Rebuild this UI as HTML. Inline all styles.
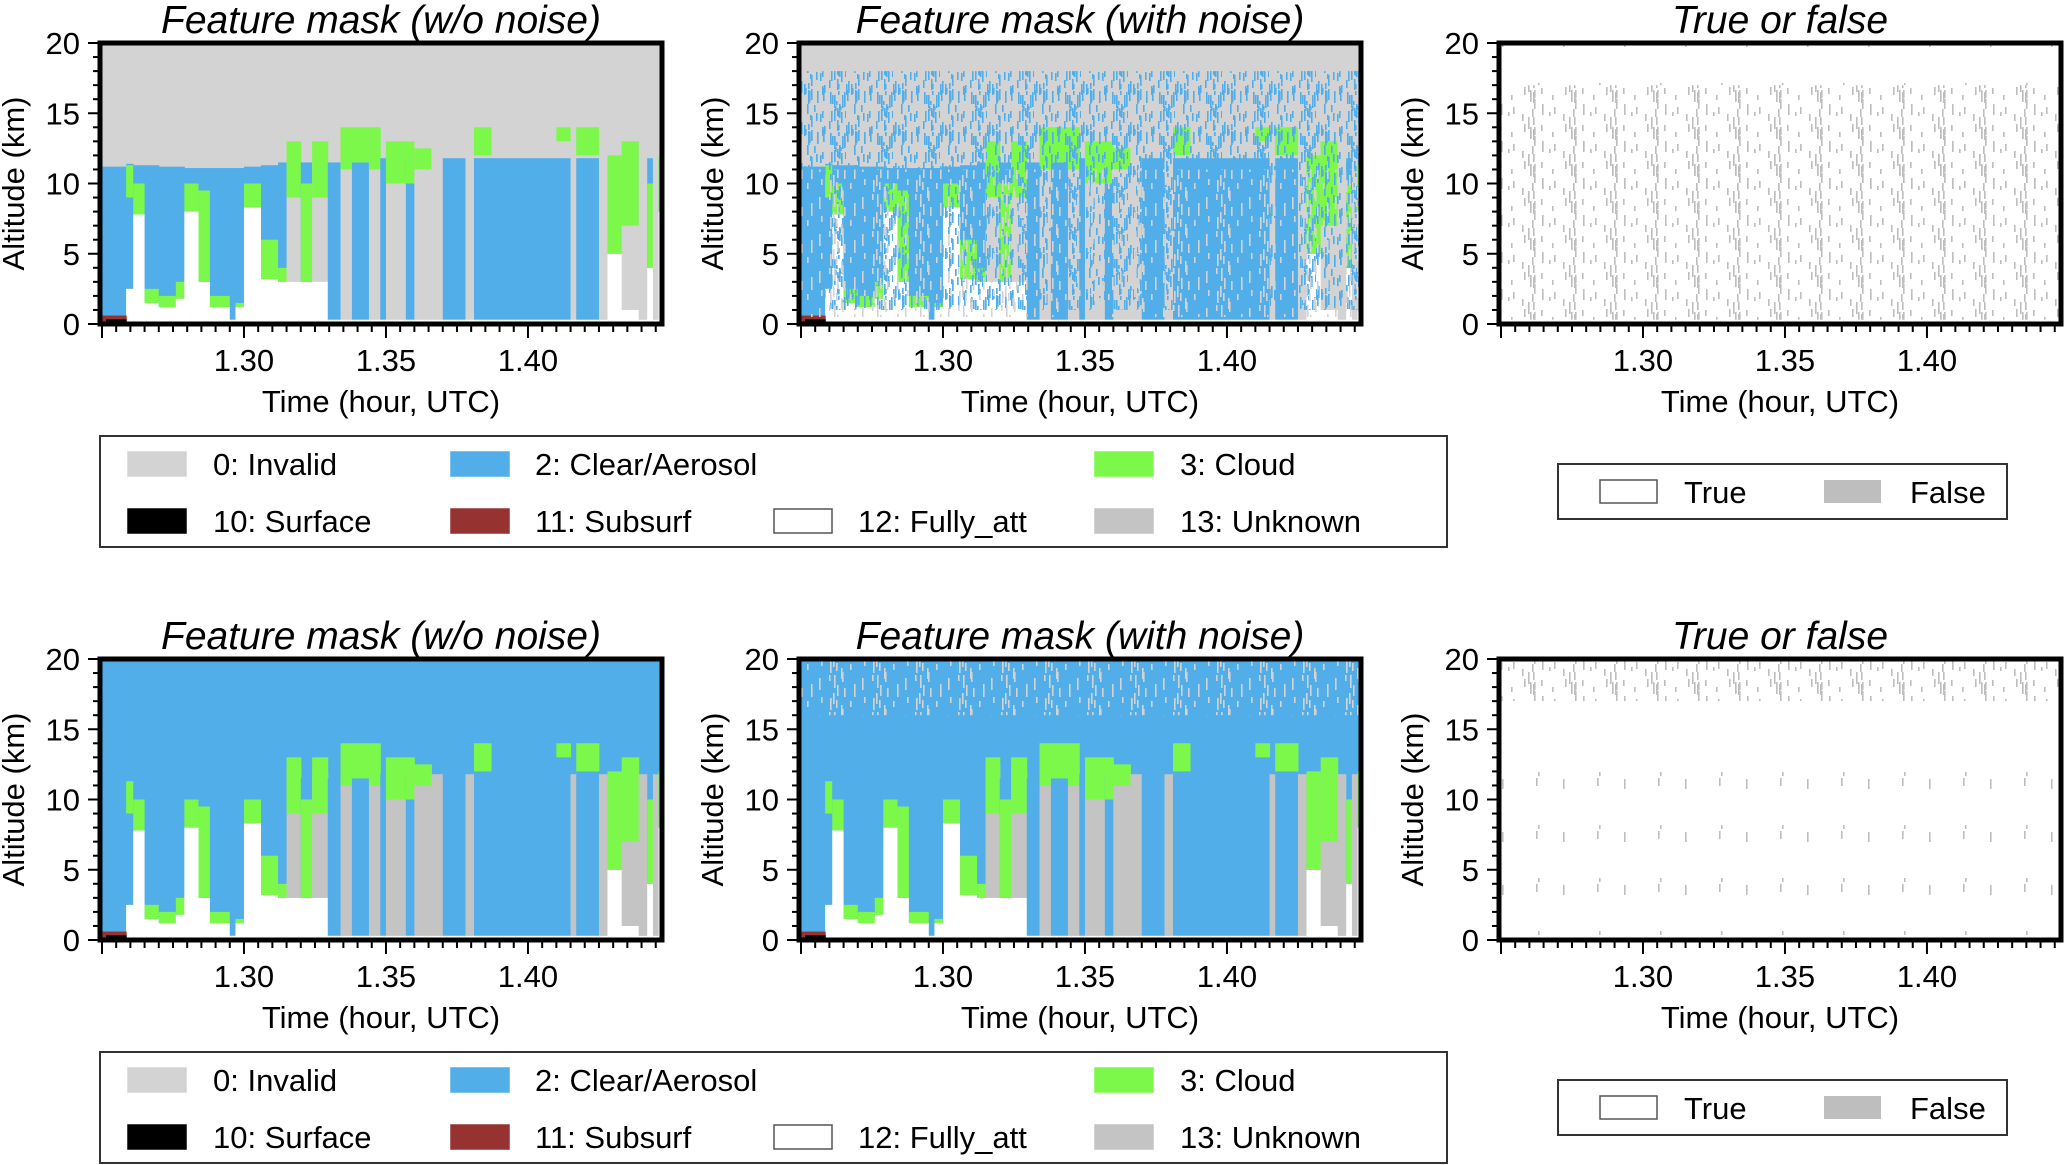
<!DOCTYPE html>
<html><head><meta charset="utf-8">
<style>
html,body{margin:0;padding:0;background:#fff;}
svg{display:block;font-family:"Liberation Sans",sans-serif;}
</style></head>
<body>
<svg id="fig" width="2067" height="1165" viewBox="0 0 2067 1165" xmlns="http://www.w3.org/2000/svg">
<defs id="defs"></defs>
</svg>
<script>
// ---- data: column segments (time start, hours UTC) ----
const segStart = [1.2493,1.2585,1.2610,1.2650,1.2700,1.2760,1.2790,1.2840,1.2880,1.2950,1.2970,1.3000,1.3060,1.3120,1.3150,1.3200,1.3240,1.3295,1.3340,1.3380,1.3440,1.3480,1.3500,1.3570,1.3600,1.3660,1.3700,1.3780,1.3810,1.3870,1.4100,1.4150,1.4170,1.4250,1.4280,1.4330,1.4390,1.4420,1.4440,1.4460];
const blueTop   = [11.2,11.4,11.3,11.3,11.2,11.2,11.1,11.1,11.1,11.1,11.1,11.2,11.3,11.5,12.5,11.5,12.0,11.5,11.5,11.5,11.5,11.8,11.8,11.8,11.8,11.8,11.8,11.8,11.8,11.8,11.8,11.8,11.8,11.8,11.8,11.8,11.8,11.8,11.8,11.8];
const attTop    = [0.4,2.5,7.8,1.5,1.2,1.8,8.0,3.0,1.2,0.3,1.2,8.3,3.2,3.0,3.0,3.0,3.0,0.3,0.3,0.3,0.3,0.3,0.3,0.3,0.3,0.3,0.3,0.3,0.3,0.3,0.3,0.3,0.3,0.3,5.0,1.0,0.3,4.0,0.3,8.0];
const cloudBase = [0,9,7.8,1.5,1.2,1.8,8,3,1.2,0,1.2,8.3,3.2,3,9,3,9,0,11,11.5,11,0,10,10,11,0,0,0,12,0,13,0,12,0,5,7,0,4,0,8];
const cloudTop  = [0,11.3,10,2.5,2,3,10,9.5,2,0,1.5,10,6,4,13,10,13,0,14,14,14,0,13,13,12.5,0,0,0,14,0,14,0,14,0,12,13,0,10,0,12];
const unknownCol= [0,0,0,0,0,0,0,0,0,0,0,0,0,0,1,0,1,0,1,0,1,0,1,0,1,1,0,1,0,0,0,1,0,1,0,1,1,0,1,0];
const tEnd = 1.4472;
const surfaceEnd = 1.2587, surfaceTop = 0.6;
const xTicks = [1.30,1.35,1.40];
const xTickLabels = ["1.30","1.35","1.40"];
const yTicks = [0,5,10,15,20];
const yTickLabels = ["0","5","10","15","20"];
const legendLabels = ["0: Invalid","2: Clear/Aerosol","3: Cloud","10: Surface","11: Subsurf","12: Fully_att","13: Unknown"];

const NS="http://www.w3.org/2000/svg";
const svg=document.getElementById('fig');
const defs=document.getElementById('defs');
const C={inv:"#d3d3d3",blue:"#52aee8",green:"#7cf84a",red:"#963230",unk:"#c4c4c4",fls:"#bebebe"};
function mk(tag,attrs,parent){const e=document.createElementNS(NS,tag);for(const k in attrs)e.setAttribute(k,attrs[k]);(parent||svg).appendChild(e);return e;}

// texture patterns (visual speckle, not data)
function pattern(id,color,w,h,n,seed){
  const p=mk('pattern',{id:id,width:w,height:h,patternUnits:'userSpaceOnUse'},defs);
  let s=seed;
  const nx=()=>{s=(s*16807)%2147483647;return s;};
  for(let i=0;i<n;i++){
    const px=nx()%w, py=nx()%h, ph=4+(nx()%10);
    mk('rect',{x:px,y:py,width:1.6,height:ph,fill:color},p);
    if(py+ph>h) mk('rect',{x:px,y:py-h,width:1.6,height:ph,fill:color},p);
  }
}
pattern('pBlueDense',C.blue,47,41,45,7);
pattern('pGrayMed',C.inv,43,37,14,11);
pattern('pGraySparse',C.inv,53,41,5,19);
pattern('pFalseDense',C.fls,41,37,16,23);
pattern('pFalseSparse',C.fls,61,53,3,29);

const colX=[100,799,1499], rowY=[43,659], PW=562, PH=281;
const T0=1.2493, T1=1.4472;

function panel(ci,ri,kind,title){
  const L=colX[ci], Tp=rowY[ri];
  const x=t=>L+(t-T0)/(T1-T0)*PW;
  const y=k=>Tp+PH-(k/20)*PH;
  const g=mk('g',{});
  
  
  const cid=`clip${ci}${ri}`;
  const cp=mk('clipPath',{id:cid},defs); mk('rect',{x:L,y:Tp,width:PW,height:PH},cp);
  const d=mk('g',{'clip-path':`url(#${cid})`},g);
  
  
  const row2 = ri===1;
  if(kind==='mask'||kind==='noise'){
    mk('rect',{x:L,y:Tp,width:PW,height:PH,fill:row2?C.blue:C.inv},d);
    for(let i=0;i<segStart.length;i++){
      const a=segStart[i], b=i+1<segStart.length?segStart[i+1]:tEnd;
      const xa=x(a), w=x(b)-xa+0.5;
      if(unknownCol[i]){
        const top=row2?blueTop[i]:20;
        mk('rect',{x:xa,y:y(top),width:w,height:y(attTop[i])-y(top),fill:row2?C.unk:C.inv},d);
      } else {
        const r=mk('rect',{x:xa,y:y(blueTop[i]),width:w,height:y(attTop[i])-y(blueTop[i]),fill:C.blue},d);
        
        
      }
      mk('rect',{x:xa,y:y(attTop[i]),width:w,height:y(0)-y(attTop[i]),fill:'#fff'},d);
      if(cloudTop[i]>cloudBase[i]){
        const c=mk('rect',{x:xa,y:y(cloudTop[i]),width:w,height:y(cloudBase[i])-y(cloudTop[i]),fill:C.green},d);
        
        
      }
    }
    mk('rect',{x:x(T0),y:y(surfaceTop),width:x(surfaceEnd)-x(T0),height:y(0)-y(surfaceTop),fill:C.red},d);
    mk('rect',{x:x(T0)+6,y:y(surfaceTop*0.55),width:x(surfaceEnd)-x(T0)-6,height:3,fill:'#000'},d);
    if(kind==='noise'){
      if(!row2){
        mk('rect',{x:L,y:y(18),width:PW,height:y(1)-y(18),fill:'url(#pBlueDense)'},d);
        mk('rect',{x:L,y:y(14),width:PW,height:y(2)-y(14),fill:'url(#pBlueDense)'},d);
        mk('rect',{x:L,y:y(11),width:PW,height:y(0.5)-y(11),fill:'url(#pGrayMed)'},d);
      } else {
        mk('rect',{x:L,y:y(20),width:PW,height:y(16)-y(20),fill:'url(#pGrayMed)'},d);
      }
    }
  } else {
    mk('rect',{x:L,y:Tp,width:PW,height:PH,fill:'#fff'},d);
    if(!row2){
      mk('rect',{x:L,y:y(17),width:PW,height:y(0.3)-y(17),fill:'url(#pFalseDense)'},d);
      mk('rect',{x:L,y:y(14),width:PW,height:y(9)-y(14),fill:'url(#pFalseDense)'},d);
      mk('rect',{x:L,y:y(20),width:PW,height:y(17)-y(20),fill:'url(#pFalseSparse)'},d);
    } else {
      mk('rect',{x:L,y:y(20),width:PW,height:y(17)-y(20),fill:'url(#pFalseDense)'},d);
      mk('rect',{x:L,y:y(14.5),width:PW,height:y(0.3)-y(14.5),fill:'url(#pFalseSparse)'},d);
    }
  }
  // frame
  mk('rect',{x:L,y:Tp,width:PW,height:PH,fill:'none',stroke:'#000','stroke-width':5},g);
  // y ticks
  for(let k=0;k<=20;k++){
    const major=k%5===0;
    mk('line',{x1:L-(major?12:7),x2:L,y1:y(k),y2:y(k),stroke:'#000','stroke-width':2},g);
  }
  yTicks.forEach((v,i)=>{
    const t=mk('text',{x:L-20,y:y(v)+11,'text-anchor':'end','font-size':31},g);
    t.textContent=yTickLabels[i];
    
    
  });
  // x ticks
  for(let n=1250;n<=1447;n+=5){
    const t=n/1000; const major=n%50===0;
    mk('line',{x1:x(t),x2:x(t),y1:Tp+PH,y2:Tp+PH+(major?14:8),stroke:'#000','stroke-width':2},g);
  }
  xTicks.forEach((v,i)=>{
    const t=mk('text',{x:x(v),y:Tp+PH+47,'text-anchor':'middle','font-size':31},g);
    t.textContent=xTickLabels[i];
    
    
  });
  const xt=mk('text',{x:L+PW/2,y:Tp+PH+88,'text-anchor':'middle','font-size':31},g);
  xt.textContent='Time (hour, UTC)';
  
  
  const yt=mk('text',{x:0,y:0,'text-anchor':'middle','font-size':31,transform:`translate(${L-76},${Tp+PH/2}) rotate(-90)`},g);
  yt.textContent='Altitude (km)';
  
  
  const tt=mk('text',{x:L+PW/2,y:Tp-10,'text-anchor':'middle','font-size':39,'font-style':'italic'},g);
  tt.textContent=title;
  
  
}

function legendMain(oy){
  const g=mk('g',{});
  
  
  mk('rect',{x:100,y:436+oy,width:1347,height:111,fill:'#fff',stroke:'#333','stroke-width':2},g);
  const items=[[0,0,C.inv,0],[1,0,C.blue,1],[3,0,C.green,2],[0,1,'#000',3],[1,1,C.red,4],[2,1,'#fff',5],[3,1,C.unk,6]];
  const sx=[128,451,774,1095], tx=[213,535,858,1180], ry=[464,521];
  items.forEach(([c,r,col,li])=>{
    const s=mk('rect',{x:sx[c],y:ry[r]+oy-12,width:58,height:24,fill:col,stroke:col==='#fff'?'#555':col,'stroke-width':1.5},g);
    
    
    const t=mk('text',{x:tx[c],y:ry[r]+oy+11,'font-size':31},g);
    t.textContent=legendLabels[li];
    
    
  });
}
function legendTF(oy){
  const g=mk('g',{});
  
  
  mk('rect',{x:1558,y:464+oy,width:449,height:55,fill:'#fff',stroke:'#333','stroke-width':2},g);
  mk('rect',{x:1600,y:480+oy,width:57,height:23,fill:'#fff',stroke:'#555','stroke-width':1.5},g);
  mk('rect',{x:1824,y:480+oy,width:57,height:23,fill:C.fls},g);
  const a=mk('text',{x:1684,y:503+oy,'font-size':31},g); a.textContent='True';
  
  
  const b=mk('text',{x:1910,y:503+oy,'font-size':31},g); b.textContent='False';
  
  
}

[0,1].forEach(r=>{
  panel(0,r,'mask','Feature mask (w/o noise)');
  panel(1,r,'noise','Feature mask (with noise)');
  panel(2,r,'tf','True or false');
  legendMain(r*616);
  legendTF(r*616);
});
</script>
</body></html>
